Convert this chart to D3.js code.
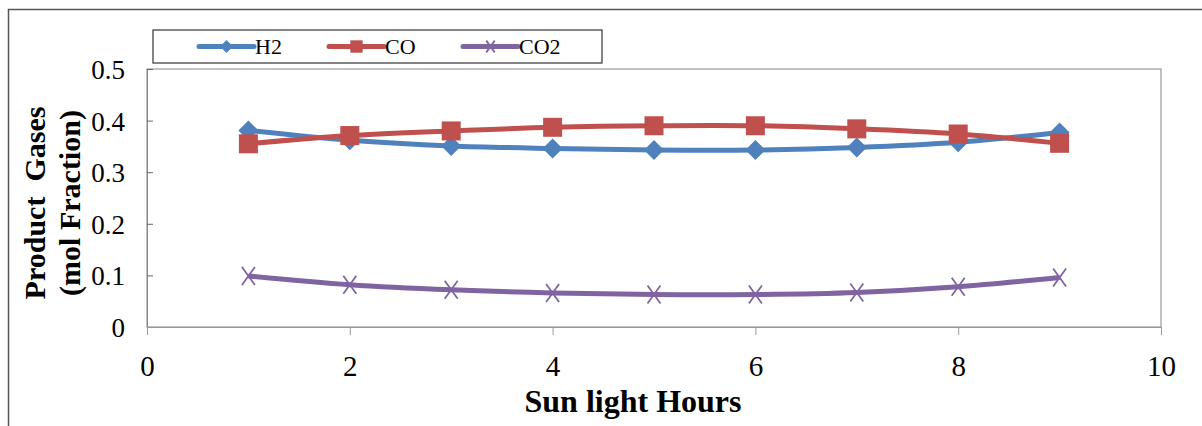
<!DOCTYPE html>
<html><head><meta charset="utf-8">
<script src="https://cdn.jsdelivr.net/npm/d3@7"></script>
<style>body{margin:0;background:#fff}svg{display:block}</style>
</head><body>
<script>
const hours = [1,2,3,4,5,6,7,8,9];
const h2  = [0.381,0.362,0.351,0.346,0.343,0.343,0.348,0.358,0.377];
const co  = [0.355,0.371,0.380,0.387,0.390,0.390,0.384,0.374,0.356];
const co2 = [0.099,0.082,0.072,0.066,0.063,0.063,0.067,0.078,0.096];
const xTicks = [0,2,4,6,8,10];
const yTicks = [0,0.1,0.2,0.3,0.4,0.5];
const seriesNames = ["H2","CO","CO2"];

const W=1202,H=426;
const svg=d3.select("body").append("svg").attr("width",W).attr("height",H);
const font="'Liberation Serif','Times New Roman',serif";

// outer frame
svg.append("path").attr("d",`M8.5,${H}V9.5H${W}`).attr("fill","none").attr("stroke","#555").attr("stroke-width",1.5);

const L=147,R=1161,T=69,B=327;
const x=d3.scaleLinear().domain([0,10]).range([L,R]);
const y=d3.scaleLinear().domain([0,0.5]).range([B,T]);

svg.append("rect").attr("x",L).attr("y",T).attr("width",R-L).attr("height",B-T)
  .attr("fill","none").attr("stroke","#999").attr("stroke-width",1.2);

// y axis
const ya=svg.append("g").attr("transform",`translate(${L},0)`)
  .call(d3.axisLeft(y).tickValues(yTicks).tickSize(-6).tickPadding(22).tickFormat(d=>d===0?"0":d3.format(".1f")(d)));
ya.select(".domain").attr("stroke","#888");
ya.selectAll(".tick line").attr("stroke","#666");
ya.selectAll("text").attr("font-family",font).attr("font-size",27).attr("fill","#000").attr("dy","0.35em");

// x axis
const xa=svg.append("g").attr("transform",`translate(0,${B})`)
  .call(d3.axisBottom(x).tickValues(xTicks).tickSize(8).tickPadding(20).tickFormat(d3.format("d")));
xa.select(".domain").attr("stroke","#999");
xa.selectAll(".tick line").attr("stroke","#999");
xa.selectAll("text").attr("font-family",font).attr("font-size",29).attr("fill","#000");

// titles
svg.append("text").attr("x",633).attr("y",412).attr("text-anchor","middle")
  .attr("font-family",font).attr("font-weight","bold").attr("font-size",32).text("Sun light Hours");
const yt=svg.append("text").attr("transform","translate(0,203) rotate(-90)")
  .attr("text-anchor","middle").attr("font-family",font).attr("font-weight","bold").attr("font-size",30);
yt.append("tspan").attr("x",0).attr("y",45).attr("xml:space","preserve").text("Product  Gases");
yt.append("tspan").attr("x",0).attr("y",80).text("(mol Fraction)");

const colors=["#4F81BD","#C0504D","#8064A2"];
const data=[h2,co,co2];
const line=d3.line().x((d,i)=>x(hours[i])).y(d=>y(d)).curve(d3.curveCatmullRom.alpha(0.5));

function marker(g,k,cx,cy,s){
  s=s||1;
  if(k===0){
    const r=10*s;
    g.append("path").attr("d",`M${cx},${cy-r}L${cx+r},${cy}L${cx},${cy+r}L${cx-r},${cy}Z`).attr("fill",colors[0]);
  } else if(k===1){
    const r=9.5*s;
    g.append("rect").attr("x",cx-r).attr("y",cy-r).attr("width",2*r).attr("height",2*r).attr("fill",colors[1]);
  } else {
    const a=6.5*s,b=9*s;
    g.append("path").attr("d",`M${cx-a},${cy-b}L${cx+a},${cy+b}M${cx+a},${cy-b}L${cx-a},${cy+b}`)
      .attr("stroke",colors[2]).attr("stroke-width",1.8).attr("fill","none");
  }
}

data.forEach((vals,k)=>{
  const g=svg.append("g");
  g.append("path").attr("d",line(vals)).attr("fill","none").attr("stroke",colors[k]).attr("stroke-width",5);
  vals.forEach((v,i)=>marker(g,k,x(hours[i]),y(v)));
});

// legend
svg.append("rect").attr("x",153).attr("y",30).attr("width",449).attr("height",33)
  .attr("fill","#fff").attr("stroke","#333").attr("stroke-width",1.2);
const legX=[199,329,463];
seriesNames.forEach((n,k)=>{
  const g=svg.append("g");
  g.append("line").attr("x1",legX[k]).attr("x2",legX[k]+55).attr("y1",46.5).attr("y2",46.5)
    .attr("stroke",colors[k]).attr("stroke-width",5).attr("stroke-linecap","round");
  marker(g,k,legX[k]+27.5,46.5,0.65);
  g.append("text").attr("x",legX[k]+56).attr("y",54).attr("font-family",font).attr("font-size",22).text(n);
});
</script>
</body></html>
